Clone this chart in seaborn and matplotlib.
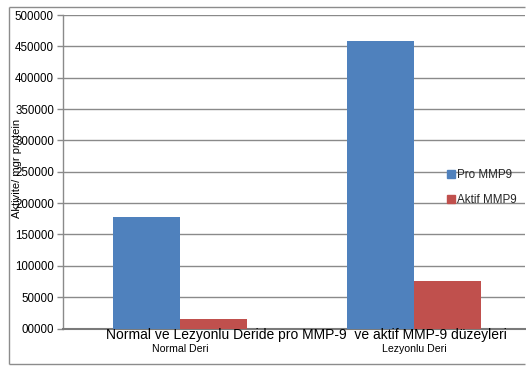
import matplotlib
matplotlib.use("Agg")
import matplotlib.pyplot as plt
import matplotlib.patches as mpatches
from matplotlib.lines import Line2D
from matplotlib.ticker import FuncFormatter, MultipleLocator
import seaborn as sns
import pandas as pd

# Values
categories = ["Normal Deri", "Lezyonlu Deri"]
series = ["Pro MMP9", "Aktif MMP9"]
pro_mmp9 = [178000, 459000]
aktif_mmp9 = [15500, 75000]

title = "Normal ve Lezyonlu Deride pro MMP-9  ve aktif MMP-9 düzeyleri"
ylabel = "Aktivite/ mgr protein"

df = pd.DataFrame({
    "kategori": categories * 2,
    "seri": [series[0]] * 2 + [series[1]] * 2,
    "deger": pro_mmp9 + aktif_mmp9,
})

sns.set_theme(style="white")
plt.rcParams["font.family"] = ["Liberation Sans", "DejaVu Sans"]

W, H = 526, 367
fig = plt.figure(figsize=(W / 100, H / 100), dpi=100)
fig.patch.set_facecolor("white")
fig.patch.set_linewidth(0)

# outer chart frame: separate top, left and bottom edges (it continues past the right edge)
fx0, fx1, fy0, fy1 = 8.5 / W, (W - 1) / W, 1 - 6.5 / H, 1 - 364 / H
for xs, ys in [([fx0, fx1], [fy0, fy0]), ([fx0, fx0], [fy0, fy1]), ([fx0, fx1], [fy1, fy1])]:
    fig.lines.append(Line2D(xs, ys, transform=fig.transFigure, color="#8c8c8c",
                            linewidth=1.0, solid_capstyle="butt"))

# plot area: one category spans 234 px; the area is cut at the figure's right edge
left, top, bottom = 63, 15, 328.5
cat_px = 234
right = W - 1
ax = fig.add_axes([left / W, 1 - bottom / H, (right - left) / W, (bottom - top) / H])

palette = {series[0]: "#4F81BD", series[1]: "#C0504D"}
sns.barplot(data=df, x="kategori", y="deger", hue="seri", order=categories,
            hue_order=series, palette=palette, width=0.573, saturation=1,
            edgecolor="none", linewidth=0, ax=ax, zorder=3)

ax.set_xlim(-0.5, -0.5 + (right - left) / cat_px)
ax.set_ylim(0, 500000)
ax.yaxis.set_major_locator(MultipleLocator(50000))
ax.yaxis.set_major_formatter(FuncFormatter(lambda v, p: f"{int(round(v)):05d}"))
ax.grid(axis="y", color="#8a8a8a", linewidth=1.0, zorder=0)
ax.grid(axis="x", visible=False)
ax.set_axisbelow(True)
ax.patch.set_linewidth(0)

for s in ["top", "right"]:
    ax.spines[s].set_visible(False)
ax.spines["left"].set_color("#8a8a8a")
ax.spines["left"].set_linewidth(1.0)
ax.spines["bottom"].set_color("#7a7a7a")
ax.spines["bottom"].set_linewidth(1.5)

ax.tick_params(axis="y", left=True, length=4, width=1, color="#8a8a8a",
               labelsize=8.3, pad=2.5, labelcolor="black")
ax.tick_params(axis="x", bottom=False, labelsize=7.6, pad=5.5, labelcolor="black")
ax.set_xlabel("")
ax.set_ylabel("")

# bottom title, overlapping the category labels
fig.text(306 / W, 1 - 335 / H, title, ha="center", va="center", fontsize=10, color="black")
# axis title
fig.text(17 / W, 1 - 168 / H, ylabel, ha="center", va="center", rotation=90,
         fontsize=8, color="black")

# legend at the right
handles = [mpatches.Patch(color=palette[s], label=s) for s in series]
ax.legend(handles=handles, loc="upper left", bbox_to_anchor=(447 / W, 1 - 169 / H),
          bbox_transform=fig.transFigure, frameon=False, fontsize=8.4,
          handlelength=0.65, handleheight=0.65, handletextpad=0.2,
          labelspacing=1.15, borderpad=0, borderaxespad=0)

fig.savefig("out.png", dpi=100, facecolor="white")
